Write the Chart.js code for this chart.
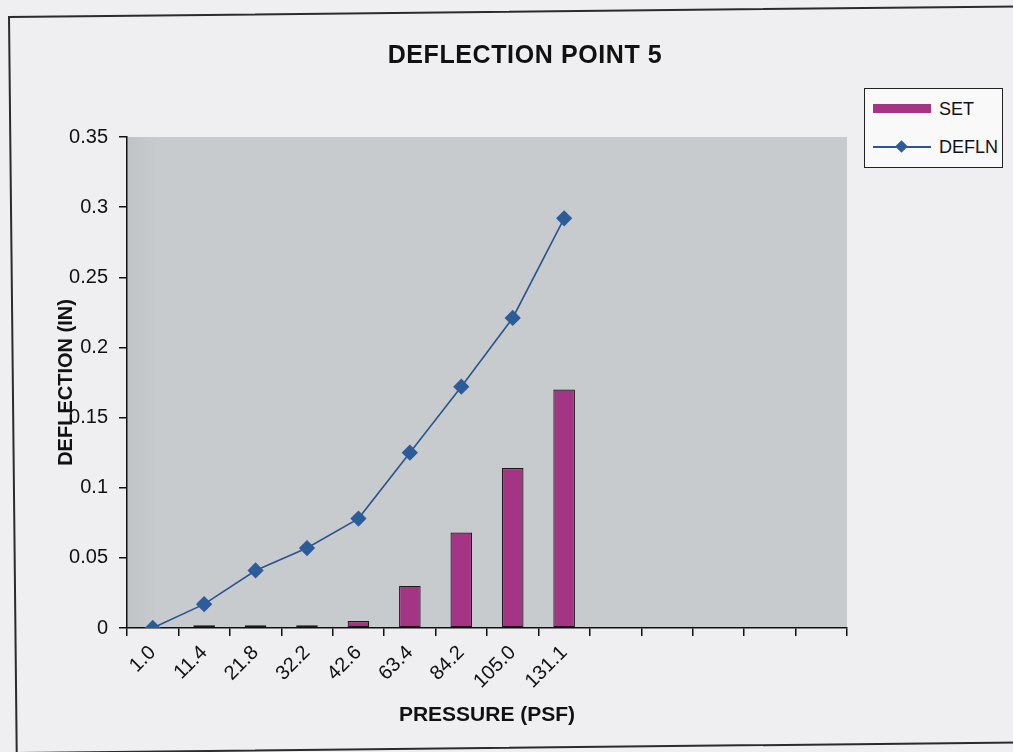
<!DOCTYPE html>
<html>
<head>
<meta charset="utf-8">
<title>Deflection Point 5</title>
<script src="https://cdn.jsdelivr.net/npm/chart.js@4.4.1/dist/chart.umd.min.js"></script>
<style>
    html, body {
        margin: 0;
        padding: 0;
        width: 1013px;
        height: 752px;
        overflow: hidden;
        background: #efeff1;
        font-family: "Liberation Sans", Arial, sans-serif;
    }
    #frame {
        position: absolute;
        left: 8px;
        top: 16px;
        width: 1100px;
        height: 734px;
        border: 2px solid #2b2b2b;
        transform-origin: 0 0;
        transform: rotate(-0.6deg);
    }
    #wrap {
        position: absolute;
        left: 0;
        top: 0;
        width: 1013px;
        height: 752px;
    }
    #title {
        position: absolute;
        left: 0;
        width: 1050px;
        top: 40px;
        text-align: center;
        font-weight: bold;
        font-size: 25px;
        letter-spacing: 0.6px;
        color: #111;
    }
    #legend {
        position: absolute;
        left: 864px;
        top: 88px;
        width: 137px;
        height: 78px;
        background: #f9f9fa;
        border: 1.5px solid #222;
        font-size: 18px;
        color: #111;
    }
    .item {
        position: absolute;
        left: 8px;
        height: 20px;
        line-height: 20px;
    }
    .item span {
        position: absolute;
        left: 66px;
        top: 0;
    }
    #keyBar {
        position: absolute;
        left: 0;
        top: 5px;
        width: 58px;
        height: 9px;
        background: #a33584;
    }
    #keyLine {
        position: absolute;
        left: 0;
        top: 9px;
        width: 58px;
        height: 2px;
        background: #2a5590;
    }
    #keyDot {
        position: absolute;
        left: 24px;
        top: 5px;
        width: 9px;
        height: 9px;
        background: #2d5c9a;
        transform: rotate(45deg);
    }
</style>
</head>
<body>
<div id="frame"></div>
<div id="wrap">
    <canvas id="deflChart" width="1013" height="752"></canvas>
</div>
<div id="title">DEFLECTION POINT 5</div>
<div id="legend">
    <div class="item" style="top:10px"><div id="keyBar"></div><span>SET</span></div>
    <div class="item" style="top:48px"><div id="keyLine"></div><div id="keyDot"></div><span>DEFLN</span></div>
</div>

<script>
// pressure steps (psf), last columns are empty in the original sheet
const pressure = ['1.0', '11.4', '21.8', '32.2', '42.6', '63.4', '84.2', '105.0', '131.1', '', '', '', '', ''];
// permanent set (in)
const setValues = [0, 0.002, 0.002, 0.002, 0.005, 0.030, 0.068, 0.114, 0.170, null, null, null, null, null];
// deflection under load (in)
const deflValues = [0, 0.017, 0.041, 0.057, 0.078, 0.125, 0.172, 0.221, 0.292, null, null, null, null, null];
const yTicks = [0, 0.05, 0.1, 0.15, 0.2, 0.25, 0.3, 0.35];

const fontFamily = '"Liberation Sans", Arial, sans-serif';

// grey plot area like the excel chart
const plotBackground = {
    id: 'plotBackground',
    beforeDraw(chart) {
        var a = chart.chartArea;
        var ctx = chart.ctx;
        ctx.save();
        var g = ctx.createLinearGradient(a.left, 0, a.left + 30, 0);
        g.addColorStop(0, '#c1c4c7');
        g.addColorStop(1, '#c8cbcd');
        ctx.fillStyle = g;
        ctx.fillRect(a.left, a.top, a.right - a.left, a.bottom - a.top);
        ctx.restore();
    }
};

var ctx = document.getElementById('deflChart');
var chart = new Chart(ctx, {
    type: 'bar',
    data: {
        labels: pressure,
        datasets: [{
            type: 'line',
            label: 'DEFLN',
            data: deflValues,
            borderColor: '#2a5590',
            borderWidth: 1.6,
            backgroundColor: '#2d5c9a',
            pointStyle: 'rectRot',
            pointRadius: 7,
            pointBorderColor: '#2d5c9a',
            pointBackgroundColor: '#2d5c9a',
            tension: 0,
            fill: false,
            order: 0
        }, {
            label: 'SET',
            data: setValues,
            backgroundColor: '#a33584',
            borderColor: '#1a1a1a',
            borderWidth: 1.2,
            borderSkipped: false,
            barPercentage: 0.42,
            categoryPercentage: 1,
            order: 1
        }]
    },
    options: {
        responsive: false,
        animation: false,
        layout: {
            padding: { left: 50, right: 166, top: 137, bottom: 20 }
        },
        plugins: {
            legend: { display: false },
            title: { display: false },
            tooltip: { enabled: false }
        },
        scales: {
            x: {
                offset: true,
                grid: {
                    offset: true,
                    drawOnChartArea: false,
                    drawTicks: true,
                    tickLength: 8,
                    color: '#111',
                    lineWidth: 1.5
                },
                border: { color: '#111', width: 1.5 },
                ticks: {
                    autoSkip: false,
                    minRotation: 45,
                    maxRotation: 45,
                    padding: 5,
                    color: '#111',
                    font: { family: fontFamily, size: 20 }
                },
                title: {
                    display: true,
                    text: 'PRESSURE (PSF)',
                    color: '#111',
                    padding: { top: 0, bottom: 4 },
                    font: { family: fontFamily, size: 21, weight: 'bold' }
                },
                afterFit: function (scale) {
                    scale.height = 104;
                }
            },
            y: {
                min: 0,
                max: 0.35,
                afterBuildTicks: function (scale) {
                    scale.ticks = yTicks.map(v => ({ value: v }));
                },
                grid: {
                    drawOnChartArea: false,
                    drawTicks: true,
                    tickLength: 8,
                    color: '#111',
                    lineWidth: 1.5
                },
                border: { color: '#111', width: 1.5 },
                ticks: {
                    padding: 11,
                    color: '#111',
                    font: { family: fontFamily, size: 20 },
                    callback: function (v) { return String(+v.toFixed(2)); }
                },
                title: {
                    display: true,
                    text: 'DEFLECTION (IN)',
                    color: '#111',
                    padding: { top: 4, bottom: 0 },
                    font: { family: fontFamily, size: 20, weight: 'bold' }
                },
                afterFit: function (scale) {
                    scale.width = 77;
                }
            }
        }
    },
    plugins: [plotBackground]
});
</script>
</body>
</html>
